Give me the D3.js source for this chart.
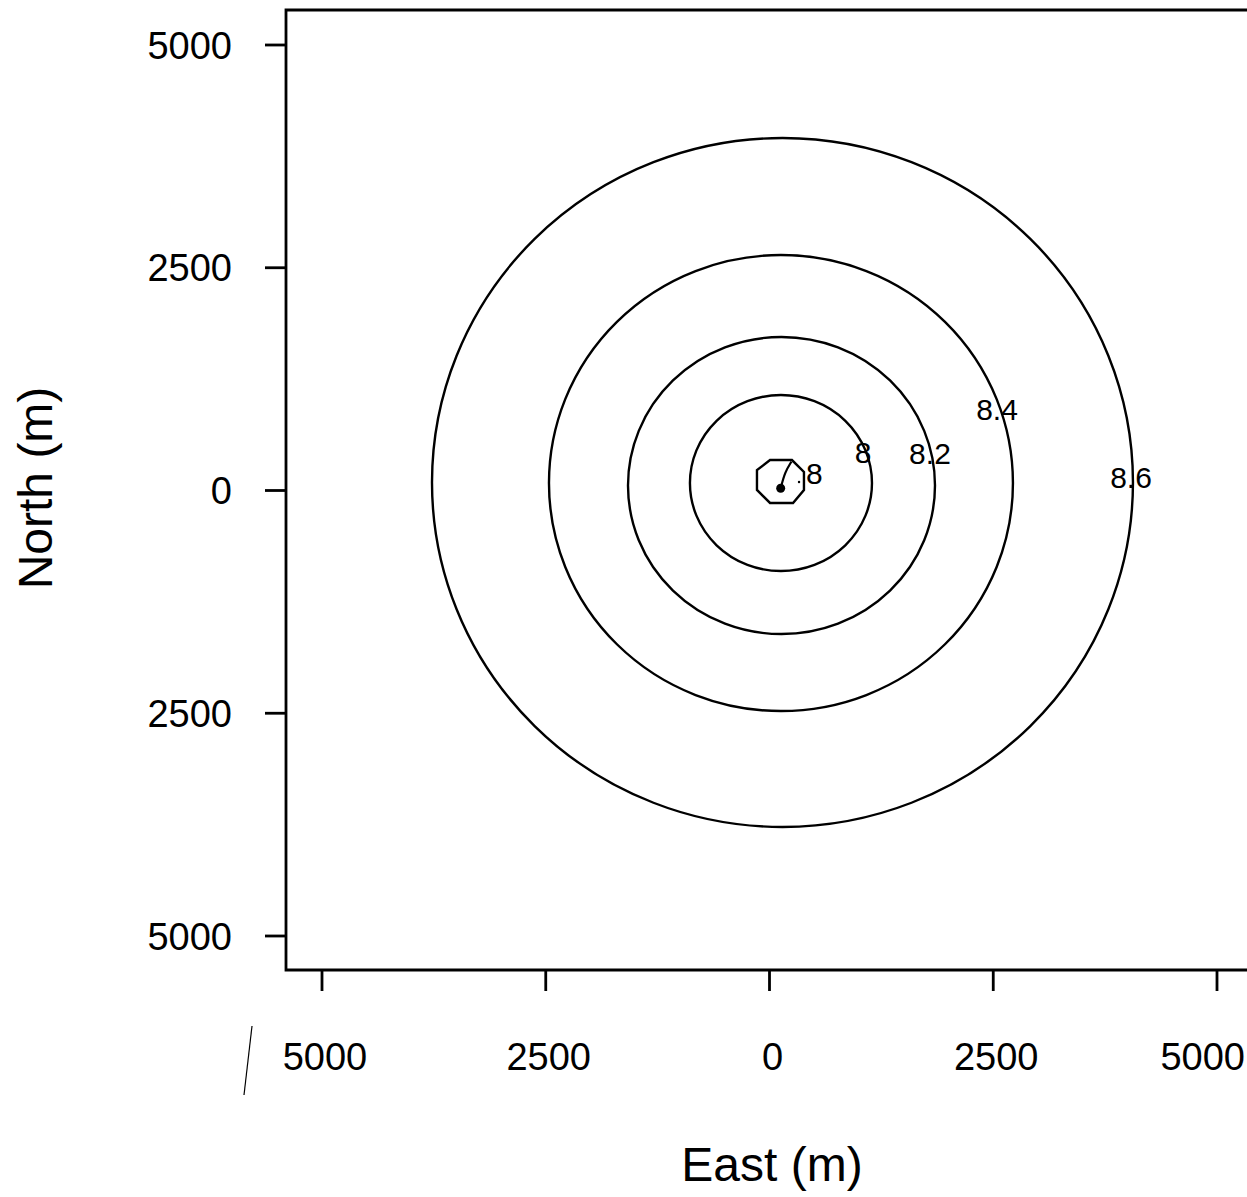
<!DOCTYPE html>
<html>
<head>
<meta charset="utf-8">
<script src="https://cdn.jsdelivr.net/npm/d3@7"></script>
<style>
  html, body { margin: 0; padding: 0; background: #fff; }
  svg { display: block; }
  text { font-family: "Liberation Sans", Arial, sans-serif; fill: #000; }
</style>
</head>
<body>
<svg id="chart" width="1247" height="1197"></svg>
<script>
// ---- data ----
const tickValues = [-5000, -2500, 0, 2500, 5000];
const tickLabels = ["5000", "2500", "0", "2500", "5000"];

// circular contours: level, centre (east, north) and radii (m)
const contourLevels = [8.6, 8.4, 8.2, 8.0];
const contourCx = [145, 128, 134, 128];
const contourCy = [90, 84, 56, 84];
const contourRx = [3916, 2592, 1715, 1017];
const contourRy = [3866, 2559, 1667, 988];

// innermost 7.8 contour (octagon)
const innerEast  = [6, 251, 385, 385, 263, 6, -140, -140];
const innerNorth = [342, 342, 208, 6, -140, -140, 6, 230];

// source point and leader
const sourcePoint = [125, 25];
const leaderEast = [125, 173, 246];
const leaderNorth = [25, 208, 325];

// contour labels
const labelText  = ["8", "8", "8.2", "8.4", "8.6"];
const labelEast  = [500, 1045, 1793, 2542, 4039];
const labelNorth = [196, 432, 421, 915, 152];
const labelDot = [330, 95];

// ---- chart ----
const W = 1247;
const svg = d3.select("#chart");
const x = d3.scaleLinear().domain([-5000, 5000]).range([322, 1217]);
const y = d3.scaleLinear().domain([-5000, 5000]).range([936, 45]);

const frameLeft = 286, frameTop = 10, frameBottom = 970;

// frame
svg.append("path")
  .attr("d", `M1260,${frameTop} H${frameLeft} V${frameBottom} H1260`)
  .attr("fill", "none").attr("stroke", "#000").attr("stroke-width", 2.8);

// y axis ticks
svg.selectAll(".ytick").data(tickValues).enter().append("line")
  .attr("x1", frameLeft - 21).attr("x2", frameLeft)
  .attr("y1", d => y(d)).attr("y2", d => y(d))
  .attr("stroke", "#000").attr("stroke-width", 2.8);
svg.selectAll(".ylab").data(tickValues).enter().append("text")
  .attr("x", 232).attr("y", d => y(d))
  .attr("dy", "0.36em").attr("text-anchor", "end")
  .attr("font-size", 38)
  .text((d, i) => tickLabels[i]);

// x axis ticks
svg.selectAll(".xtick").data(tickValues).enter().append("line")
  .attr("x1", d => x(d)).attr("x2", d => x(d))
  .attr("y1", frameBottom).attr("y2", frameBottom + 21)
  .attr("stroke", "#000").attr("stroke-width", 2.8);
const xl = svg.selectAll(".xlab").data(tickValues).enter().append("text")
  .attr("y", 1070)
  .attr("text-anchor", "middle")
  .attr("font-size", 38)
  .text((d, i) => tickLabels[i]);
xl.each(function(d) {
  const half = this.getComputedTextLength() / 2;
  const cx = Math.min(x(d) + 3, W - 2 - half);
  d3.select(this).attr("x", cx);
});

// scan mark near the x labels
svg.append("line").attr("x1", 252).attr("y1", 1026).attr("x2", 244).attr("y2", 1095)
  .attr("stroke", "#000").attr("stroke-width", 1.2);

// axis titles
svg.append("text").attr("x", 772).attr("y", 1181)
  .attr("text-anchor", "middle").attr("font-size", 48).text("East (m)");
svg.append("text")
  .attr("transform", `translate(52,488) rotate(-90)`)
  .attr("text-anchor", "middle").attr("font-size", 48).text("North (m)");

// contours
svg.selectAll(".contour").data(contourLevels).enter().append("ellipse")
  .attr("cx", (d, i) => x(contourCx[i]))
  .attr("cy", (d, i) => y(contourCy[i]))
  .attr("rx", (d, i) => x(contourRx[i]) - x(0))
  .attr("ry", (d, i) => y(0) - y(contourRy[i]))
  .attr("fill", "none").attr("stroke", "#000").attr("stroke-width", 2.4);

// inner octagon
const innerPts = innerEast.map((e, i) => [x(e), y(innerNorth[i])]);
svg.append("path")
  .attr("d", d3.line().curve(d3.curveLinearClosed)(innerPts))
  .attr("fill", "none").attr("stroke", "#000").attr("stroke-width", 2.4);

// leader from source
const leaderPts = leaderEast.map((e, i) => [x(e), y(leaderNorth[i])]);
svg.append("path")
  .attr("d", d3.line().curve(d3.curveBasis)(leaderPts))
  .attr("fill", "none").attr("stroke", "#000").attr("stroke-width", 2.2);

svg.append("circle")
  .attr("cx", x(sourcePoint[0])).attr("cy", y(sourcePoint[1]))
  .attr("r", 4.5).attr("fill", "#000");
svg.append("circle")
  .attr("cx", x(labelDot[0])).attr("cy", y(labelDot[1]))
  .attr("r", 1.2).attr("fill", "#000");

// labels
svg.selectAll(".clab").data(labelText).enter().append("text")
  .attr("x", (d, i) => x(labelEast[i]))
  .attr("y", (d, i) => y(labelNorth[i]))
  .attr("dy", "0.36em").attr("text-anchor", "middle")
  .attr("font-size", 30)
  .text(d => d);
</script>
</body>
</html>
